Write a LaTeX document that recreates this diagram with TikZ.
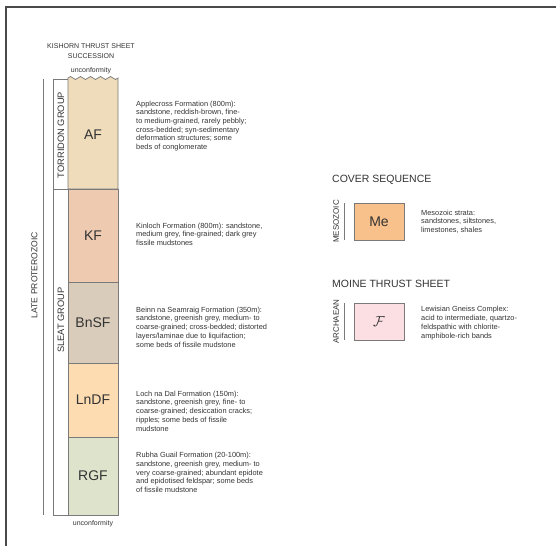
\documentclass[tikz,border=0pt]{standalone}
\usepackage{fontspec}
\setmainfont{Liberation Sans}
\definecolor{afc}{HTML}{EEDCBA}
\definecolor{kfc}{HTML}{EDCAB0}
\definecolor{bnc}{HTML}{D9CCBA}
\definecolor{lnc}{HTML}{FDDCB1}
\definecolor{rgc}{HTML}{DEE4CC}
\definecolor{mec}{HTML}{F8C08A}
\definecolor{fc}{HTML}{FCDFE2}
\definecolor{edgec}{HTML}{7A7A7A}
\definecolor{framec}{HTML}{4A4A4A}
\definecolor{txt}{HTML}{333333}
\begin{document}
\begin{tikzpicture}[x=1pt,y=-1pt,
  desc/.style={anchor=base west,align=left,inner sep=0,font=\fontsize{7.4}{8.7}\selectfont,text=txt},
  unitlab/.style={font=\fontsize{14}{16}\selectfont,text=txt,inner sep=0},
  unitbox/.style={draw=edgec,line width=0.7pt,minimum width=50pt,inner sep=0},
  grp/.style={rotate=90,font=\fontsize{9.3}{11}\selectfont,inner sep=0,text=txt},
  small/.style={font=\fontsize{7}{10}\selectfont,text=txt,inner sep=0,align=center},
  head/.style={font=\fontsize{10.5}{12}\selectfont,text=txt,inner sep=0,anchor=base west},
  vline/.style={draw=edgec,line width=0.7pt}
]
\useasboundingbox (0,0) rectangle (556,546);
\draw[framec,line width=1.2pt] (556,7) -- (6,7) -- (6,546);

% heading
\node[small] (title) at (91,51) {KISHORN THRUST SHEET\\SUCCESSION};
\node[small] (uncTop) at (91,71) {unconformity};
\node[small] (uncBot) at (93,524) {unconformity};

% AF with wavy top
\filldraw[fill=afc,draw=edgec,line width=0.7pt]
  (68,189) -- (68,78)
  sin (70.5,76.5) cos (73,78) sin (75.5,79.5) cos (78,78)
  sin (80.5,76.5) cos (83,78) sin (85.5,79.5) cos (88,78)
  sin (90.5,76.5) cos (93,78) sin (95.5,79.5) cos (98,78)
  sin (100.5,76.5) cos (103,78) sin (105.5,79.5) cos (108,78)
  sin (110.5,76.5) cos (113,78) sin (115.5,79.5) cos (118,78)
  -- (118,189) -- cycle;
\node[unitlab] (AF) at (93,135) {AF};
\node[unitbox,fill=kfc,minimum height=93pt] (KF) at (93,235.5) {};
\node[unitlab] (KFl) at (KF) {KF};
\node[unitbox,fill=bnc,minimum height=81pt] (BnSF) at (93,322.5) {};
\node[unitlab] (BnSFl) at (BnSF) {BnSF};
\node[unitbox,fill=lnc,minimum height=74pt] (LnDF) at (93,400) {};
\node[unitlab] (LnDFl) at (LnDF) {LnDF};
\node[unitbox,fill=rgc,minimum height=78pt] (RGF) at (93,476) {};
\node[unitlab] (RGFl) at (RGF) {RGF};

% group box
\draw[vline] (68,79) -- (53,79) -- (53,515) -- (68,515);
\draw[vline] (53,189) -- (68,189);
\node[grp] (torr) at (61,135) {TORRIDON GROUP};
\node[grp] (sleat) at (61,320) {SLEAT GROUP};

% late proterozoic
\draw[vline] (43,79) -- (43,515);
\node[grp,font=\fontsize{8.6}{11}\selectfont] (lp) at (34.5,275) {LATE PROTEROZOIC};

% descriptions (anchor at baseline of last line)
\node[desc] (dAF) at (136,149.5) {Applecross Formation (800m):\\sandstone, reddish-brown, fine-\\to medium-grained, rarely pebbly;\\cross-bedded; syn-sedimentary\\deformation structures; some\\beds of conglomerate};
\node[desc] (dKF) at (136,245.5) {Kinloch Formation (800m): sandstone,\\medium grey, fine-grained; dark grey\\fissile mudstones};
\node[desc] (dBn) at (136,347) {Beinn na Seamraig Formation (350m):\\sandstone, greenish grey, medium- to\\coarse-grained; cross-bedded; distorted\\layers/laminae due to liquifaction;\\some beds of fissile mudstone};
\node[desc] (dLn) at (136,431) {Loch na Dal Formation (150m):\\sandstone, greenish grey, fine- to\\coarse-grained; desiccation cracks;\\ripples; some beds of fissile\\mudstone};
\node[desc] (dRG) at (136,492.5) {Rubha Guail Formation (20-100m):\\sandstone, greenish grey, medium- to\\very coarse-grained; abundant epidote\\and epidotised feldspar; some beds\\of fissile mudstone};

% right side
\node[head] (cover) at (332,182) {COVER SEQUENCE};
\node[unitbox,fill=mec,minimum height=37pt] (Me) at (379,221.5) {};
\node[unitlab] (Mel) at (Me) {Me};
\draw[vline] (344,203) -- (344,240);
\node[grp,font=\fontsize{8}{10}\selectfont] (meso) at (336,221.5) {MESOZOIC};
\node[desc] (dMe) at (421,232.5) {Mesozoic strata:\\sandstones, siltstones,\\limestones, shales};

\node[head] (moine) at (332,287) {MOINE THRUST SHEET};
\node[unitbox,fill=fc,minimum height=37pt] (F) at (379,321.5) {};
\node[unitlab] (Fl) at (F) {$\mathcal{F}$};
\draw[vline] (344,303) -- (344,340);
\node[grp,font=\fontsize{8}{10}\selectfont] (arch) at (336,321.5) {ARCHAEAN};
\node[desc] (dF) at (421,338) {Lewisian Gneiss Complex:\\acid to intermediate, quartzo-\\feldspathic with chlorite-\\amphibole-rich bands};
\end{tikzpicture}
\end{document}
